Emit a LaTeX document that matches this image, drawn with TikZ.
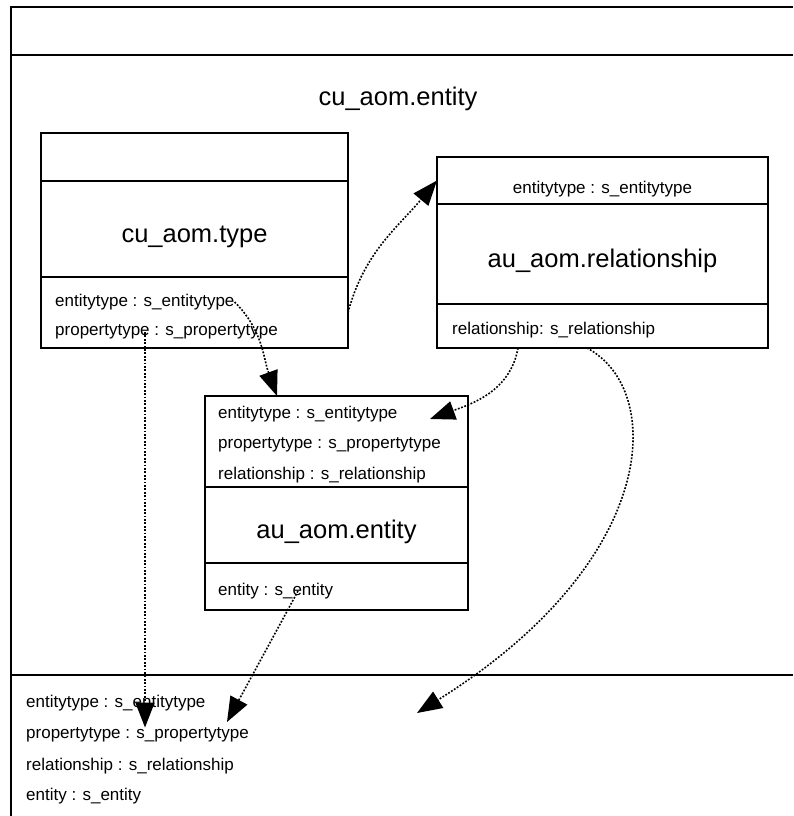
\documentclass[tikz,border=0pt]{standalone}
\usepackage{fontspec}
\setmainfont{Liberation Sans}
\usetikzlibrary{arrows.meta}

\tikzset{
  cell/.style={draw, line width=1.1pt, anchor=north west, inner sep=0pt, outer sep=0pt},
  attr/.style={anchor=west, inner sep=0pt, font=\fontsize{17}{20}\selectfont},
  big/.style={font=\fontsize{25.5}{30}\selectfont},
  boxtitle/.style={big, text height=31pt, text depth=5pt},
  dep/.style={line width=1.6pt, dash pattern=on 1.8pt off 1.6pt,
    -{Triangle[length=25pt,width=19pt]}},
}

\begin{document}
\begin{tikzpicture}[x=1pt,y=1pt]
\useasboundingbox (0,0) rectangle (793,-816);
% package frame
\draw[line width=1.1pt] (793,-7) -- (11,-7) -- (11,-816);
\draw[line width=1.1pt] (11,-55) -- (793,-55);
\draw[line width=1.1pt] (11,-675) -- (793,-675);
\node[big] (pkg) at (398,-99) {cu\_aom.entity};

% cu_aom.type
\node[cell, minimum width=307pt, minimum height=48pt] (typehead) at (41,-133) {};
\node[cell, minimum width=307pt, minimum height=96pt, boxtitle] (typename) at (41,-181) {cu\_aom.type};
\node[cell, minimum width=307pt, minimum height=71pt] (typeattr) at (41,-277) {};
\node[attr] (tet) at (55,-302) {entitytype : s\_entitytype};
\node[attr] (tpt) at (55,-332) {propertytype : s\_propertytype};

% au_aom.relationship
\node[cell, minimum width=331pt, minimum height=47pt] (relhead) at (437,-157) {};
\node[attr, anchor=center] (ret) at (602.5,-189) {entitytype : s\_entitytype};
\node[cell, minimum width=331pt, minimum height=100pt, boxtitle] (relname) at (437,-204) {au\_aom.relationship};
\node[cell, minimum width=331pt, minimum height=44pt] (relattr) at (437,-304) {};
\node[attr] (rrl) at (452,-330) {relationship: s\_relationship};

% au_aom.entity
\node[cell, minimum width=263pt, minimum height=91pt] (enthead) at (205,-396) {};
\node[attr] (eet) at (218,-414) {entitytype : s\_entitytype};
\node[attr] (ept) at (218,-445) {propertytype : s\_propertytype};
\node[attr] (erl) at (218,-475) {relationship : s\_relationship};
\node[cell, minimum width=263pt, minimum height=76pt, boxtitle] (entname) at (205,-487) {au\_aom.entity};
\node[cell, minimum width=263pt, minimum height=47pt] (entattr) at (205,-563) {};
\node[attr] (een) at (218,-591) {entity : s\_entity};

% bottom compartment
\node[attr] (bet) at (26,-703) {entitytype : s\_entitytype};
\node[attr] (bpt) at (26,-735) {propertytype : s\_propertytype};
\node[attr] (brl) at (26,-766) {relationship : s\_relationship};
\node[attr] (ben) at (26,-796) {entity : s\_entity};

\coordinate (tipH) at (430,-419);
\coordinate (tipE) at (227,-722);
\coordinate (tipR) at (417,-713);

% dependencies
\draw[dep] (typeattr.east) to[out=75, in=-130] (relhead.west);
\draw[dep] (tet.east) to[out=-45, in=110] ([xshift=72pt]enthead.north west);
\draw[dep] ([xshift=90pt]tpt.west) -- ([xshift=90pt]tpt.west |- bpt.north);
\draw[dep] ([xshift=80pt]een.west) -- (tipE);
\draw[dep] ([xshift=-84.5pt]relattr.south) to[out=-100, in=20] (tipH);
\draw[dep] ([xshift=-15.5pt]relattr.south) to[out=-28, in=32, out distance=89pt, in distance=287pt] (tipR);
\end{tikzpicture}
\end{document}
